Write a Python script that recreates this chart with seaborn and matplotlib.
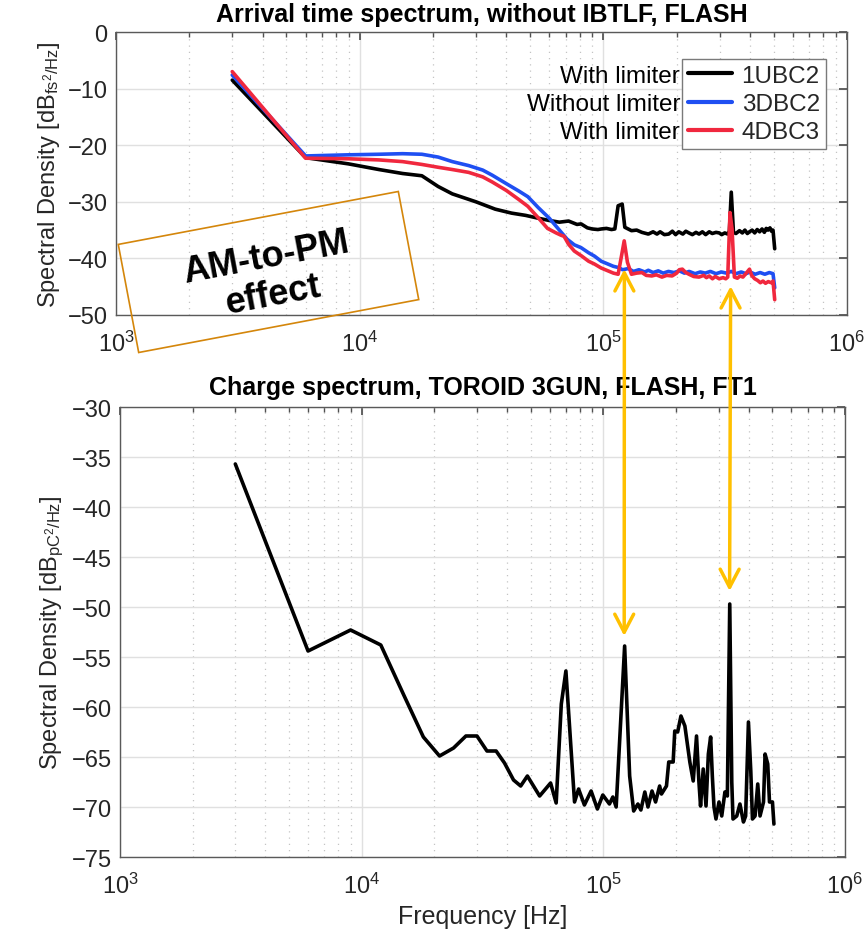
import numpy as np
import pandas as pd
import matplotlib
matplotlib.use("Agg")
import matplotlib.pyplot as plt
import seaborn as sns
from matplotlib.patches import Polygon, ConnectionPatch
from matplotlib.ticker import LogLocator, NullFormatter

# ---------------- data ----------------
ubc2_freq = [3000, 6000, 9000, 12000, 15000, 18000, 21000, 24000, 30000, 36000, 42000, 48000,
             54000, 60000, 66000, 72000, 78000, 81000, 86000, 90000, 95000, 98000, 103000, 108000,
             111500, 115000, 119500, 122500, 130500, 137000, 144000, 153000, 160000, 166000,
             171000, 178000, 185500, 192000, 198000, 204000, 212000, 218000, 224500, 232000,
             240000, 247000, 255000, 263000, 272000, 280000, 290000, 299000, 306000, 315000,
             324000, 329000, 335000, 342000, 350000, 362000, 372000, 381000, 390000, 398000,
             408000, 418000, 428000, 438000, 448000, 458000, 466000, 474000, 483000, 490000,
             497000, 505000]
ubc2_db = [-8.5, -22.2, -23.3, -24.3, -25.0, -25.4, -27.3, -28.6, -30.0, -31.3, -32.0, -32.4,
           -32.9, -33.3, -33.6, -33.4, -34.0, -33.9, -34.6, -34.8, -34.9, -34.8, -34.7, -34.9,
           -34.8, -30.7, -30.4, -34.5, -35.1, -35.0, -35.4, -35.7, -35.3, -35.7,
           -35.3, -35.8, -35.7, -35.2, -35.8, -35.3, -35.7, -35.2, -35.5, -35.8,
           -35.4, -35.7, -35.3, -35.8, -35.3, -35.6, -35.4, -35.5, -35.8, -35.5,
           -35.7, -35.2, -28.3, -35.4, -35.6, -35.1, -35.5, -35.0, -35.6, -35.3,
           -35.0, -35.5, -34.9, -35.3, -34.8, -35.4, -34.7, -35.0, -34.6, -35.2,
           -35.0, -38.3]

dbc2_freq = [3000, 6000, 9000, 12000, 15000, 18000, 21000, 24000, 28000, 32000, 35000, 40000,
             45000, 49000, 54000, 60000, 66000, 71000, 76000, 81000, 87000, 92000, 98000,
             104500, 110000, 115000, 120000, 126500, 133000, 140000, 148000, 153000, 160000,
             168000, 176000, 185000, 195000, 205000, 215000, 225000, 238000, 250000, 262000,
             275000, 290000, 305000, 320000, 335000, 350000, 368000, 385000, 400000, 420000,
             440000, 460000, 480000, 497000, 505000]
dbc2_db = [-7.6, -21.9, -21.7, -21.6, -21.5, -21.6, -22.1, -22.9, -23.6, -24.4, -25.3, -26.8,
           -28.1, -29.1, -31.0, -32.9, -35.0, -36.6, -37.6, -38.1, -39.0, -39.6, -40.5,
           -41.0, -41.4, -41.6, -42.0, -41.8, -42.3, -42.0, -42.4, -42.1, -42.5,
           -42.2, -42.6, -42.3, -42.5, -42.2, -42.6, -42.3, -42.7, -42.4, -42.6,
           -42.3, -42.7, -42.4, -42.6, -42.3, -42.7, -42.4, -42.7, -42.4, -42.8,
           -42.5, -42.8, -42.5, -42.7, -45.2]

dbc3_freq = [3000, 6000, 9000, 12000, 15000, 18000, 21000, 24000, 28000, 32000, 35000, 40000,
             45000, 49000, 54000, 59000, 64000, 67000, 69000, 72000, 76000, 81000, 87000,
             92000, 98000, 104500, 110000, 115000, 118800, 121800, 125600, 130500, 137000,
             144000, 150000, 158000, 165000, 174000, 182000, 191500, 200000, 205000, 211000,
             218000, 224500, 235000, 247000, 258000, 265000, 272000, 280500, 288000, 299000,
             310000, 318000, 324000, 331000, 337500, 345000, 355000, 364000, 374000, 386000,
             398000, 406000, 418000, 430000, 441000, 452000, 463000, 475000, 489000, 497000,
             505000]
dbc3_db = [-7.0, -22.3, -22.4, -22.6, -22.9, -23.4, -23.9, -24.3, -24.8, -25.6, -26.5, -28.0,
           -29.6, -30.8, -32.8, -34.7, -35.5, -35.9, -36.1, -37.5, -38.7, -39.5, -40.5,
           -41.0, -41.7, -42.2, -42.6, -42.8, -39.5, -36.9, -40.7, -42.8, -42.6,
           -42.5, -43.0, -43.1, -42.9, -43.3, -43.0, -43.1, -42.6, -42.0, -41.9,
           -42.5, -42.8, -43.2, -43.3, -43.0, -43.4, -43.1, -43.6, -43.2, -43.6,
           -43.4, -43.6, -43.3, -31.9, -34.8, -43.3, -43.5, -43.1, -43.3, -42.6,
           -41.9, -43.0, -43.6, -43.9, -44.3, -44.0, -44.4, -44.1, -44.3, -44.0,
           -47.3]

series_names = ["1UBC2", "3DBC2", "4DBC3"]
series_notes = ["With limiter", "Without limiter", "With limiter"]
series_colors = ["#000000", "#1F4FF2", "#F0283E"]

charge_freq = [3000, 6000, 9000, 12000, 15000, 18000, 21000, 24000, 27000, 30000, 33000, 36000,
               39000, 42500, 45500, 48500, 54500, 60500, 63800, 67000, 70000, 76000, 79000,
               83500, 89000, 94500, 99500, 106000, 109500, 113000, 122500, 128500, 133500,
               139000, 143000, 148500, 153000, 159000, 164500, 171000, 174000, 182500, 186500,
               194500, 197500, 203000, 209500, 217500, 228000, 235500, 243000, 248500, 252500,
               259000, 266000, 272000, 278000, 282500, 287000, 292500, 301000, 309000, 318500,
               326000, 333500, 340000, 344000, 356500, 367500, 380000, 388000, 398500, 407500,
               414000, 424500, 435500, 445000, 460000, 467000, 479000, 487000, 501000, 508000]
charge_db = [-35.7, -54.4, -52.3, -53.8, -58.9, -63.0, -64.9, -64.1, -62.9, -62.9, -64.4, -64.4,
             -65.6, -67.3, -67.9, -66.9, -68.9, -67.6, -69.6, -59.7, -56.4, -69.5, -68.2,
             -69.8, -68.4, -70.2, -68.8, -69.7, -69.0, -70.0, -53.9, -66.9, -70.4,
             -69.7, -70.3, -68.5, -70.0, -68.4, -69.5, -67.9, -68.7, -67.9, -65.5,
             -65.5, -62.4, -62.5, -60.9, -61.9, -65.5, -67.4, -62.9, -67.4, -69.9,
             -66.2, -69.9, -64.7, -63.0, -66.9, -70.0, -71.2, -69.5, -70.9, -68.5,
             -68.9, -49.7, -67.5, -71.2, -70.9, -69.7, -71.5, -70.9, -61.5, -66.4,
             -71.2, -70.9, -67.7, -70.9, -69.5, -64.7, -65.7, -69.5, -69.5, -71.7]

# AM/PM coupled lines (arrow positions: frequency, top-plot dB, bottom-plot dB)
arrow_freq = [122000, 333000]
arrow_top_db = [-41.9, -44.9]
arrow_bottom_db = [-52.9, -48.4]

top_yticks = [0, -10, -20, -30, -40, -50]
bottom_yticks = [-30, -35, -40, -45, -50, -55, -60, -65, -70, -75]

# ---------------- style ----------------
sns.set_theme(style="white")
plt.rcParams["font.family"] = ["Liberation Sans", "DejaVu Sans"]
plt.rcParams["mathtext.fontset"] = "custom"
plt.rcParams["mathtext.rm"] = "Liberation Sans"
plt.rcParams["mathtext.it"] = "Liberation Sans:italic"
plt.rcParams["mathtext.bf"] = "Liberation Sans:bold"
plt.rcParams["axes.unicode_minus"] = True

W, H = 868, 937
fig = plt.figure(figsize=(W / 100, H / 100), dpi=100)
fig.patch.set_facecolor("white")

def px_axes(left, top, right, bottom):
    return [left / W, 1 - bottom / H, (right - left) / W, (bottom - top) / H]

ax1 = fig.add_axes(px_axes(116, 33, 847, 316))
ax2 = fig.add_axes(px_axes(120, 408, 845, 858))

TICK_FS = 17
LABEL_FS = 17
tick_color = "#262626"

top_df = pd.concat([
    pd.DataFrame({"Frequency": ubc2_freq, "PSD": ubc2_db, "Station": series_names[0]}),
    pd.DataFrame({"Frequency": dbc2_freq, "PSD": dbc2_db, "Station": series_names[1]}),
    pd.DataFrame({"Frequency": dbc3_freq, "PSD": dbc3_db, "Station": series_names[2]}),
], ignore_index=True)
charge_df = pd.DataFrame({"Frequency": charge_freq, "PSD": charge_db})

sns.lineplot(data=top_df, x="Frequency", y="PSD", hue="Station", hue_order=series_names,
             palette=dict(zip(series_names, series_colors)), estimator=None, sort=False,
             lw=2.6, ax=ax1)
sns.lineplot(data=charge_df, x="Frequency", y="PSD", color="black", estimator=None,
             sort=False, lw=2.6, ax=ax2)

for ax, yt in ((ax1, top_yticks), (ax2, bottom_yticks)):
    ax.set_xscale("log")
    ax.set_xlim(1e3, 1e6)
    ax.set_ylim(min(yt), max(yt))
    ax.set_yticks(yt)
    ax.xaxis.set_major_locator(LogLocator(base=10, numticks=10))
    ax.xaxis.set_minor_locator(LogLocator(base=10, subs=np.arange(2, 10), numticks=100))
    ax.xaxis.set_minor_formatter(NullFormatter())
    ax.set_axisbelow(True)
    ax.grid(True, which="major", color="#e0e0e0", lw=1.0, ls="-")
    ax.grid(True, which="minor", axis="x", color="#c4c4c4", lw=0.9, ls=(0, (1, 4)))
    ax.tick_params(which="both", direction="in", top=True, right=True, colors="#505050",
                   labelcolor=tick_color, labelsize=TICK_FS)
    ax.tick_params(axis="y", pad=6)
    ax.tick_params(axis="x", pad=11)
    ax.tick_params(which="major", length=6)
    ax.tick_params(which="minor", length=3.5)
    for s in ax.spines.values():
        s.set_visible(True)
        s.set_color("#5a5a5a")
        s.set_linewidth(1.0)
    ax.set_facecolor("white")

ax1.set_xlabel("")
ax1.set_ylabel(r"Spectral Density [dB$_{\mathrm{fs}^{2}\mathrm{/Hz}}$]", fontsize=LABEL_FS,
               color=tick_color, labelpad=4)
ax2.set_ylabel(r"Spectral Density [dB$_{\mathrm{pC}^{2}\mathrm{/Hz}}$]", fontsize=LABEL_FS,
               color=tick_color, labelpad=4)
ax2.set_xlabel("Frequency [Hz]", fontsize=18, color=tick_color, labelpad=5)

ax1.set_title("Arrival time spectrum, without IBTLF, FLASH", fontsize=18, fontweight="bold",
              color="black", pad=8)
ax2.set_title("Charge spectrum, TOROID 3GUN, FLASH, FT1", fontsize=18, fontweight="bold",
              color="black", pad=9)

handles, labels = ax1.get_legend_handles_labels()
for h in handles:
    h.set_linewidth(3.0)
leg = ax1.legend(handles, labels, loc="upper right", bbox_to_anchor=(0.971, 0.905),
                 frameon=True, fancybox=False, edgecolor="#7a7a7a", framealpha=1,
                 fontsize=17.5, handlelength=1.8, handletextpad=0.4, labelspacing=0.25,
                 borderpad=0.25, borderaxespad=0)
leg.get_frame().set_linewidth(1.0)

fig.canvas.draw()
lbb = leg.get_window_extent()
for t, note in zip(leg.get_texts(), series_notes):
    bb = t.get_window_extent()
    yc = (bb.y0 + bb.y1) / 2
    fig.text((lbb.x0 - 2) / W, yc / H, note, ha="right", va="center", fontsize=17.5,
             color="black")

# AM-to-PM annotation box (figure pixel geometry)
cx, cy, bw, bh, ang = 268.5, 273.0, 285.0, 110.0, 10.7
a = np.deg2rad(ang)
ux, uy = np.cos(a), -np.sin(a)     # along width (screen y down)
vx, vy = np.sin(a), np.cos(a)      # along height
corners = []
for sw, sh in ((-1, -1), (1, -1), (1, 1), (-1, 1)):
    px = cx + sw * bw / 2 * ux + sh * bh / 2 * vx
    py = cy + sw * bw / 2 * uy + sh * bh / 2 * vy
    corners.append((px / W, 1 - py / H))
fig.add_artist(Polygon(corners, closed=True, fill=False, edgecolor="#D4860B", lw=1.2,
                       transform=fig.transFigure))
fig.text((cx + 1) / W, 1 - (cy + 4) / H, "AM-to-PM\neffect", rotation=ang,
         rotation_mode="anchor", ha="center", va="center", multialignment="center",
         fontsize=26, fontweight="bold", color="black", linespacing=1.15)

# double-headed arrows linking the peaks
for f, ya, yb in zip(arrow_freq, arrow_top_db, arrow_bottom_db):
    cp = ConnectionPatch(xyA=(f, ya), coordsA="data", axesA=ax1,
                         xyB=(f, yb), coordsB="data", axesB=ax2,
                         arrowstyle="<->,head_length=1.3,head_width=0.68",
                         mutation_scale=10, color="#FFC000", lw=2.5,
                         shrinkA=0, shrinkB=0, zorder=5)
    fig.add_artist(cp)

fig.savefig("out.png", dpi=100)
